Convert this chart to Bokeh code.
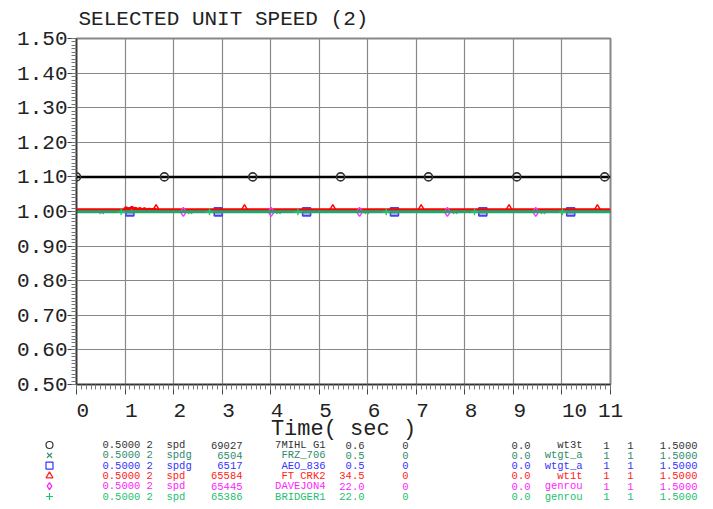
from bokeh.plotting import figure
from bokeh.models import Range1d, FixedTicker, PrintfTickFormatter, Title, ColumnDataSource
from bokeh.core.properties import value
from bokeh.layouts import column
from bokeh.embed import file_html
from bokeh.resources import INLINE
import numpy as np

# ---------------- data ----------------
title_text = "SELECTED UNIT SPEED (2)"
x_label = "Time( sec )"
x_ticks = list(range(0, 12))
x_tick_labels = ["0", "1", "2", "3", "4", "5", "6", "7", "8", "9", "10", "11"]
y_ticks = [0.5, 0.6, 0.7, 0.8, 0.9, 1.0, 1.1, 1.2, 1.3, 1.4, 1.5]

# series 1: 7MIHL G1 (black, circles)
t_black = [0.0, 11.0]
v_black = [1.100, 1.100]
m_black = [0.0, 1.81, 3.63, 5.44, 7.25, 9.07, 10.88]

# series 2: FRZ_706 (teal, x)
t_teal = [0.0, 11.0]
v_teal = [0.999, 0.999]
m_teal = [0.52, 2.34, 4.16, 5.98, 7.80, 9.61]

# series 3: AEO_836 (blue, squares)
t_blue = [0.0, 11.0]
v_blue = [0.999, 0.999]
m_blue = [1.10, 2.92, 4.74, 6.55, 8.37, 10.18]

# series 4: FT CRK2 (red, triangles)
t_red = [0.0, 0.98, 1.02, 1.06, 1.10, 1.14, 1.18, 1.22, 1.26, 1.30, 1.35,
         1.40, 1.45, 1.50, 1.55, 1.60, 1.64, 1.70, 11.0]
v_red = [1.005, 1.005, 1.012, 1.005, 1.007, 1.013, 1.006, 1.010, 1.005, 1.009,
         1.005, 1.008, 1.005, 1.007, 1.005, 1.007, 1.005, 1.005, 1.005]
m_red = [1.64, 3.46, 5.28, 7.10, 8.91, 10.73]
m_red_v = 1.005

# series 5: DAVEJON4 (magenta, diamonds)
t_mag = [0.0, 11.0]
v_mag = [0.999, 0.999]
m_mag = [2.20, 4.01, 5.83, 7.64, 9.46]

# series 6: BRIDGER1 (green, plus)
t_grn = [0.0, 11.0]
v_grn = [0.999, 0.999]
m_grn = [0.92, 2.74, 4.56, 6.38, 8.20, 10.01]

# legend table
leg_markers = ["circle", "x", "square", "triangle", "diamond", "cross"]
leg_colors = ["#333333", "#2e8b6e", "#3333ff", "#ff2222", "#ff22ff", "#22c070"]
leg_scale = ["0.5000 2"] * 6
leg_type = ["spd", "spdg", "spdg", "spd", "spd", "spd"]
leg_bus = ["69027", "6504", "6517", "65584", "65445", "65386"]
leg_name = ["7MIHL G1", "FRZ_706", "AEO_836", "FT CRK2", "DAVEJON4", "BRIDGER1"]
leg_kv = ["0.6", "0.5", "0.5", "34.5", "22.0", "22.0"]
leg_id = ["0"] * 6
leg_off = ["0.0"] * 6
leg_model = ["wt3t", "wtgt_a", "wtgt_a", "wt1t", "genrou", "genrou"]
leg_a = ["1"] * 6
leg_b = ["1"] * 6
leg_max = ["1.5000"] * 6

# ---------------- main figure ----------------
MONO = "Liberation Mono"
W = 705
FL, FT, FW, FH = 76, 38, 534, 348
OVERLAP = 6
H_MAIN = 444

p = figure(width=W, height=H_MAIN, output_backend="svg", toolbar_location=None,
           x_range=Range1d(0, 11), y_range=Range1d(0.5, 1.5),
           min_border_left=FL, min_border_top=FT,
           min_border_right=W - FL - FW, min_border_bottom=H_MAIN - FT - FH)
p.background_fill_color = "white"
p.border_fill_color = "white"
p.outline_line_color = "#888888"
p.outline_line_width = 2

p.title = Title(text=title_text, align="left", offset=2, standoff=12,
                vertical_align="top",
                text_font=MONO, text_font_size="21px", text_font_style="normal",
                text_color="#222222")

xminor = [round(v, 2) for v in np.arange(0, 11.001, 0.1)]
yminor = [round(v, 3) for v in np.arange(0.5, 1.5001, 0.01)]
p.xaxis.ticker = FixedTicker(ticks=x_ticks, minor_ticks=xminor)
p.yaxis.ticker = FixedTicker(ticks=y_ticks, minor_ticks=yminor)
p.yaxis.formatter = PrintfTickFormatter(format="%.2f")
# labels sit just right of their tick (left-aligned look); pad with no-break spaces
NB = "\u00a0"
p.xaxis.major_label_overrides = {
    t: (NB * (2 if len(s) > 1 else 1) + s) if t < x_ticks[-1] else s
    for t, s in zip(x_ticks, x_tick_labels)
}
for ax in (p.xaxis[0], p.yaxis[0]):
    ax.major_label_text_font = MONO
    ax.major_label_text_font_size = "21px"
    ax.major_label_text_color = "#222222"
    ax.axis_line_color = "#333333"
    ax.axis_line_width = 1.5
    ax.major_tick_line_color = "#444444"
    ax.minor_tick_line_color = "#777777"
    ax.major_tick_in = 0
    ax.minor_tick_in = 0
p.xaxis.major_tick_out = 10
p.xaxis.minor_tick_out = 5
p.yaxis.major_tick_out = 9
p.yaxis.minor_tick_out = 5
p.xaxis.major_label_standoff = 5
p.yaxis.major_label_standoff = 0
p.xaxis.axis_label = x_label
p.xaxis.axis_label_text_font = MONO
p.xaxis.axis_label_text_font_size = "22px"
p.xaxis.axis_label_text_font_style = "normal"
p.xaxis.axis_label_text_color = "#222222"
p.xaxis.axis_label_standoff = -9

p.grid.grid_line_color = "#888888"
p.grid.grid_line_width = 1.2

p.line(t_black, v_black, line_color="black", line_width=2.5)
p.scatter(m_black, [v_black[0]] * len(m_black), marker="circle", size=8,
          fill_color=None, line_color="#333333", line_width=1.6)
p.line(t_teal, v_teal, line_color="#2e8b6e", line_width=2)
p.scatter(m_teal, [v_teal[0]] * len(m_teal), marker="x", size=6,
          line_color="#889999", line_width=1.3)
p.line(t_blue, v_blue, line_color="#3333ff", line_width=2)
p.scatter(m_blue, [v_blue[0]] * len(m_blue), marker="square", size=8,
          fill_color="#6a5acd", fill_alpha=0.5, line_color="#4444ff", line_width=1.6)
p.line(t_red, v_red, line_color="#ff0000", line_width=3)
p.scatter(m_red, [m_red_v] * len(m_red), marker="triangle", size=9,
          fill_color=None, line_color="#ff0000", line_width=1.4)
p.line(t_mag, v_mag, line_color="#ff00ff", line_width=2)
p.scatter(m_mag, [v_mag[0]] * len(m_mag), marker="diamond", size=9,
          fill_color=None, line_color="#ff33ff", line_width=1.4)
p.line(t_grn, v_grn, line_color="#20a868", line_width=3)
p.scatter(m_grn, [v_grn[0]] * len(m_grn), marker="cross", size=7,
          line_color="#30c070", line_width=1.4)

# ---------------- legend table (pixel-like coordinates) ----------------
H_LEG = 66
lg = figure(width=W, height=H_LEG, output_backend="svg", toolbar_location=None,
            x_range=Range1d(0, W), y_range=Range1d(H_LEG, 0),
            x_axis_type=None, y_axis_type=None, min_border=0,
            min_border_left=0, min_border_right=0, min_border_top=0, min_border_bottom=0)
lg.outline_line_color = None
lg.background_fill_alpha = 0
lg.border_fill_alpha = 0
lg.grid.visible = False
if "frame_align" in lg.properties():
    lg.frame_align = False
    p.frame_align = False

row_y0 = 6.5
try:
    lg.margin = (-OVERLAP, 0, 0, 0)
except Exception:
    row_y0 = 6.5 - OVERLAP + 6

row_y = [row_y0 + 10.3 * i for i in range(6)]
lg.scatter([49] * 6, row_y, marker=leg_markers, size=7, fill_color=None,
           line_color=leg_colors, line_width=1.2)

cols = [
    (leg_scale, 102, "left"),
    (leg_type, 166, "left"),
    (leg_bus, 242, "right"),
    (leg_name, 325, "right"),
    (leg_kv, 364, "right"),
    (leg_id, 405, "center"),
    (leg_off, 530, "right"),
    (leg_model, 582, "right"),
    (leg_a, 606, "center"),
    (leg_b, 630, "center"),
    (leg_max, 697, "right"),
]
for arr, cx, al in cols:
    src = ColumnDataSource(dict(x=[cx] * 6, y=row_y, t=arr, c=leg_colors))
    lg.text(x="x", y="y", text="t", source=src, text_color="c",
            text_align=al, text_baseline="middle",
            text_font=value(MONO), text_font_size="10.5px")

layout = column(p, lg, spacing=0)
open("out.html", "w").write(file_html(layout, INLINE))
